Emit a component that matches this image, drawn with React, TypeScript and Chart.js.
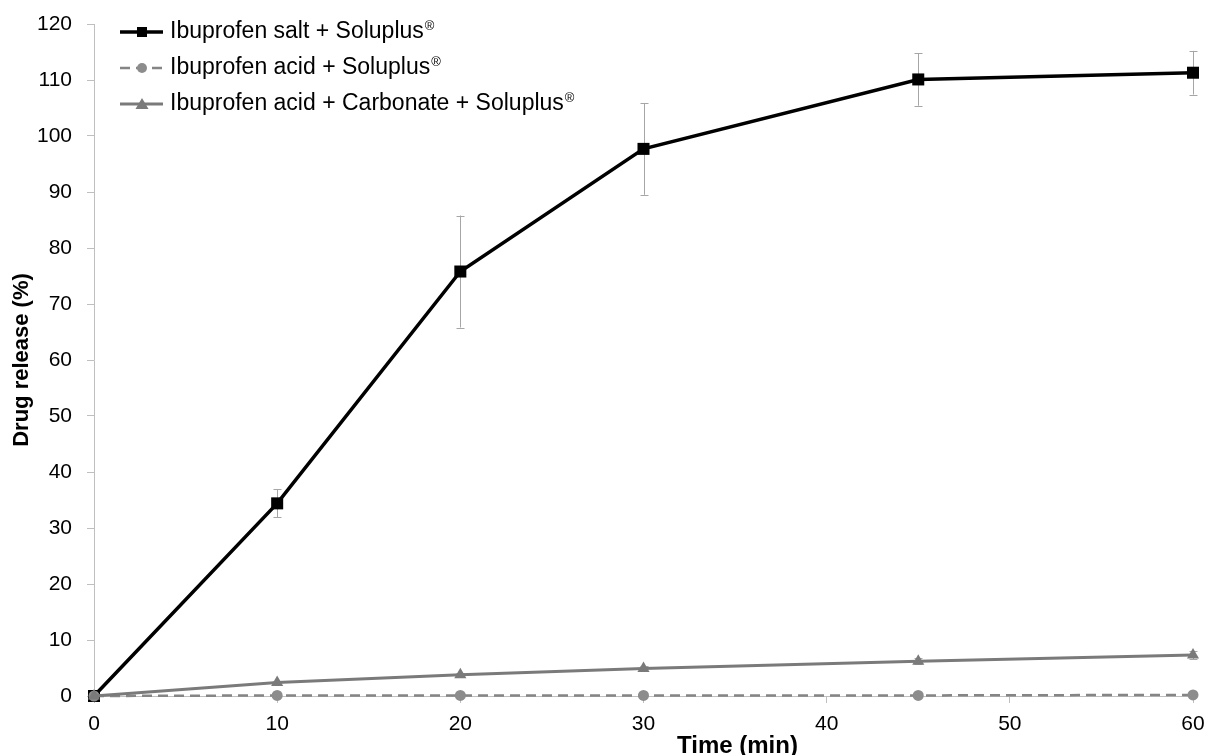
import React, { useEffect, useRef } from 'react';
import { Chart, registerables } from 'chart.js';

Chart.register(...registerables);

// ---- Data ----
const timeMin = [0, 10, 20, 30, 45, 60];

const saltSoluplus = [0, 34.4, 75.8, 97.7, 110.1, 111.3];
const saltSoluplusErr = [0, 2.5, 10.0, 8.2, 4.7, 3.9];

const acidSoluplus = [0, 0.1, 0.1, 0.1, 0.1, 0.2];
const acidSoluplusErr = [0, 0, 0, 0, 0, 0.1];

const acidCarbSoluplus = [0, 2.4, 3.8, 4.9, 6.2, 7.3];
const acidCarbSoluplusErr = [0, 0.3, 0.3, 0.4, 0.5, 0.7];

const seriesLabels = [
  'Ibuprofen salt + Soluplus',
  'Ibuprofen acid + Soluplus',
  'Ibuprofen acid + Carbonate + Soluplus',
];
const registeredMark = '\u00AE';

const xTitleText = 'Time (min)';
const yTitleText = 'Drug release (%)';

const FONT = '"Liberation Sans", Arial, Helvetica, sans-serif';

const errorSets = [saltSoluplusErr, acidSoluplusErr, acidCarbSoluplusErr];

export default function App() {
  const ref = useRef<HTMLCanvasElement>(null);

  useEffect(() => {
    if (!ref.current) return;

    const errorBars = {
      id: 'errorBars',
      beforeDatasetsDraw(chart: any) {
        const ctx = chart.ctx;
        const xs = chart.scales.x;
        const ys = chart.scales.y;
        ctx.save();
        ctx.strokeStyle = '#a6a6a6';
        ctx.lineWidth = 1;
        errorSets.forEach((errs, di) => {
          const vals = chart.data.datasets[di].data as any[];
          vals.forEach((p: any, i: number) => {
            const e = errs[i];
            if (!e) return;
            const x = Math.round(xs.getPixelForValue(p.x)) + 0.5;
            const yTop = ys.getPixelForValue(p.y + e);
            const yBot = ys.getPixelForValue(p.y - e);
            ctx.beginPath();
            ctx.moveTo(x, yTop);
            ctx.lineTo(x, yBot);
            ctx.moveTo(x - 4, Math.round(yTop) + 0.5);
            ctx.lineTo(x + 4, Math.round(yTop) + 0.5);
            ctx.moveTo(x - 4, Math.round(yBot) + 0.5);
            ctx.lineTo(x + 4, Math.round(yBot) + 0.5);
            ctx.stroke();
          });
        });
        ctx.restore();
      },
    };

    const customLegend = {
      id: 'customLegend',
      afterDraw(chart: any) {
        const ctx = chart.ctx;
        const rowsY = [32, 68, 104];
        const lineX0 = 120;
        const lineX1 = 163;
        const markX = 142;
        const textX = 170;
        ctx.save();
        chart.data.datasets.forEach((ds: any, i: number) => {
          const y = rowsY[i];
          ctx.strokeStyle = ds.borderColor;
          ctx.lineWidth = ds.borderWidth;
          ctx.setLineDash(ds.borderDash || []);
          ctx.beginPath();
          ctx.moveTo(lineX0, y);
          ctx.lineTo(lineX1, y);
          ctx.stroke();
          ctx.setLineDash([]);
          ctx.fillStyle = ds.pointBackgroundColor;
          ctx.beginPath();
          if (ds.pointStyle === 'rect') {
            ctx.rect(markX - 5, y - 5, 10, 10);
          } else if (ds.pointStyle === 'circle') {
            ctx.arc(markX, y, 5, 0, Math.PI * 2);
          } else {
            ctx.moveTo(markX, y - 6);
            ctx.lineTo(markX + 6.5, y + 5);
            ctx.lineTo(markX - 6.5, y + 5);
            ctx.closePath();
          }
          ctx.fill();

          ctx.fillStyle = '#000';
          ctx.textBaseline = 'middle';
          ctx.textAlign = 'left';
          ctx.font = `23px ${FONT}`;
          ctx.fillText(ds.label, textX, y);
          const w = ctx.measureText(ds.label).width;
          ctx.font = `13px ${FONT}`;
          ctx.fillText(registeredMark, textX + w + 1, y - 6);
        });
        ctx.restore();
      },
    };

    const xTitle = {
      id: 'xTitle',
      afterDraw(chart: any) {
        const ctx = chart.ctx;
        ctx.save();
        ctx.fillStyle = '#000';
        ctx.font = `bold 24px ${FONT}`;
        ctx.textAlign = 'left';
        ctx.textBaseline = 'alphabetic';
        ctx.fillText(xTitleText, 677, 753);
        ctx.restore();
      },
    };

    const toPts = (ys: number[]) => timeMin.map((t, i) => ({ x: t, y: ys[i] }));

    const tickFont = { family: FONT, size: 21 };

    const chart = new Chart(ref.current, {
      type: 'line',
      data: {
        datasets: [
          {
            label: seriesLabels[0],
            data: toPts(saltSoluplus),
            borderColor: '#000000',
            backgroundColor: '#000000',
            pointBackgroundColor: '#000000',
            pointBorderColor: '#000000',
            borderWidth: 3.5,
            pointStyle: 'rect',
            pointRadius: 8.5,
            pointBorderWidth: 0,
            order: 3,
            clip: false,
          } as any,
          {
            label: seriesLabels[1],
            data: toPts(acidSoluplus),
            borderColor: '#858585',
            backgroundColor: '#8c8c8c',
            pointBackgroundColor: '#8c8c8c',
            pointBorderColor: '#8c8c8c',
            borderWidth: 2.5,
            borderDash: [10, 6],
            pointStyle: 'circle',
            pointRadius: 5.5,
            pointBorderWidth: 0,
            order: 2,
            clip: false,
          } as any,
          {
            label: seriesLabels[2],
            data: toPts(acidCarbSoluplus),
            borderColor: '#7a7a7a',
            backgroundColor: '#7a7a7a',
            pointBackgroundColor: '#7a7a7a',
            pointBorderColor: '#7a7a7a',
            borderWidth: 3,
            pointStyle: 'triangle',
            pointRadius: 7,
            pointBorderWidth: 0,
            order: 1,
            clip: false,
          } as any,
        ],
      },
      options: {
        animation: false,
        responsive: true,
        maintainAspectRatio: false,
        devicePixelRatio: 1,
        layout: { padding: { top: 24, right: 17, left: 0, bottom: 0 } },
        plugins: {
          legend: { display: false },
          tooltip: { enabled: false },
          title: { display: false },
        },
        elements: { line: { tension: 0 } },
        scales: {
          x: {
            type: 'linear',
            min: 0,
            max: 60,
            ticks: {
              stepSize: 10,
              color: '#000',
              font: tickFont,
              padding: 9,
              maxRotation: 0,
            },
            grid: {
              drawOnChartArea: false,
              drawTicks: true,
              tickLength: 7,
              color: '#bfbfbf',
              lineWidth: 1,
            },
            border: { color: '#bfbfbf', width: 1 },
            afterFit: (s: any) => {
              s.height = 59;
              s.paddingRight = 0;
              s.paddingLeft = 0;
            },
          },
          y: {
            type: 'linear',
            min: 0,
            max: 120,
            ticks: {
              stepSize: 10,
              color: '#000',
              font: tickFont,
              padding: 15,
            },
            grid: {
              drawOnChartArea: false,
              drawTicks: true,
              tickLength: 7,
              color: '#bfbfbf',
              lineWidth: 1,
            },
            border: { color: '#bfbfbf', width: 1 },
            title: {
              display: true,
              text: yTitleText,
              color: '#000',
              font: { family: FONT, size: 22, weight: 'bold' },
              padding: { top: 9, bottom: 0 },
            },
            afterFit: (s: any) => {
              s.width = 94;
              s.paddingTop = 0;
              s.paddingBottom = 0;
            },
          },
        },
      } as any,
      plugins: [errorBars, customLegend, xTitle],
    });

    return () => chart.destroy();
  }, []);

  return (
    <div
      style={{
        position: 'fixed',
        left: 0,
        top: 0,
        width: 1210,
        height: 755,
        background: '#ffffff',
      }}
    >
      <canvas ref={ref} />
    </div>
  );
}
